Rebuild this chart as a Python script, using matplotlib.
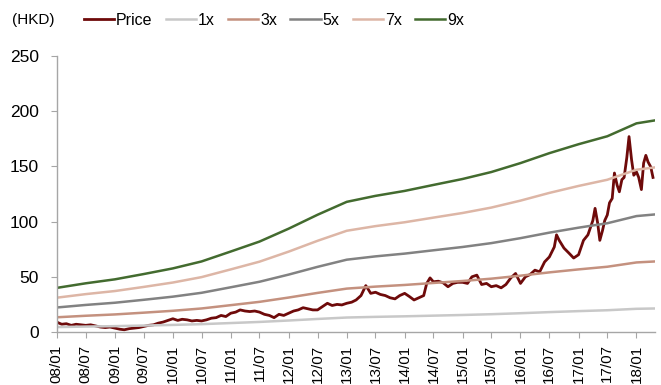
import numpy as np
import pandas as pd
import matplotlib
matplotlib.use("Agg")
import matplotlib.pyplot as plt
import matplotlib.dates as mdates

plt.rcParams['font.family'] = ['Liberation Sans', 'DejaVu Sans']

# share price (HKD)
price_dates = [
    "2008-01-01", "2008-01-15", "2008-02-01", "2008-03-01", "2008-04-01", "2008-05-01",
    "2008-06-01", "2008-07-01", "2008-08-01", "2008-09-01", "2008-10-01", "2008-11-01",
    "2008-12-01", "2009-01-01", "2009-02-01", "2009-03-01", "2009-04-01", "2009-05-01",
    "2009-06-01", "2009-07-01", "2009-08-01", "2009-09-01", "2009-10-01", "2009-11-01",
    "2009-12-01", "2010-01-01", "2010-02-01", "2010-03-01", "2010-04-01", "2010-05-01",
    "2010-06-01", "2010-07-01", "2010-08-01", "2010-09-01", "2010-10-01", "2010-11-01",
    "2010-12-01", "2011-01-01", "2011-02-01", "2011-03-01", "2011-04-01", "2011-05-01",
    "2011-06-01", "2011-07-01", "2011-08-01", "2011-09-01", "2011-10-01", "2011-11-01",
    "2011-12-01", "2012-01-01", "2012-02-01", "2012-03-01", "2012-04-01", "2012-05-01",
    "2012-06-01", "2012-07-01", "2012-08-01", "2012-09-01", "2012-10-01", "2012-11-01",
    "2012-12-01", "2013-01-01", "2013-02-01", "2013-03-01", "2013-04-01", "2013-05-01",
    "2013-05-15", "2013-06-01", "2013-07-01", "2013-08-01", "2013-09-01", "2013-10-01",
    "2013-11-01", "2013-12-01", "2014-01-01", "2014-02-01", "2014-03-01", "2014-04-01",
    "2014-05-01", "2014-05-20", "2014-06-10", "2014-07-01", "2014-08-01", "2014-09-01",
    "2014-10-01", "2014-11-01", "2014-12-01", "2015-01-01", "2015-02-01", "2015-03-01",
    "2015-04-01", "2015-05-01", "2015-06-01", "2015-07-01", "2015-08-01", "2015-09-01",
    "2015-10-01", "2015-11-01", "2015-12-01", "2016-01-01", "2016-02-01", "2016-03-01",
    "2016-04-01", "2016-05-01", "2016-06-01", "2016-07-01", "2016-08-01", "2016-08-15",
    "2016-09-01", "2016-10-01", "2016-11-01", "2016-12-01", "2017-01-01", "2017-02-01",
    "2017-03-01", "2017-04-01", "2017-04-15", "2017-05-01", "2017-05-15", "2017-06-01",
    "2017-06-15", "2017-07-01", "2017-07-15", "2017-08-01", "2017-08-15", "2017-09-01",
    "2017-09-15", "2017-10-01", "2017-10-15", "2017-11-01", "2017-11-15", "2017-12-01",
    "2017-12-15", "2018-01-01", "2018-01-15", "2018-02-01", "2018-02-15", "2018-03-01",
    "2018-03-15", "2018-04-01", "2018-04-15",
]
price = [
    9, 8, 7, 7.5, 6, 7,
    6.5, 6, 6.5, 5.5, 4.5, 4,
    4.5, 3.5, 2.5, 2, 3, 3.5,
    4, 5, 6, 6.5, 8, 9,
    10.5, 12, 10.5, 11.5, 11, 10,
    10.5, 10, 11, 12.5, 13, 15,
    14, 17, 18, 20, 19, 18.5,
    19, 18, 16, 15, 13, 16,
    15, 17, 19, 20, 22, 21,
    20, 20, 23, 26, 24, 25,
    24.5, 26, 27, 29, 33, 42,
    39, 35, 36, 34, 33, 31,
    30, 33, 35, 32, 29, 31,
    33, 44, 49, 45.5, 46, 44.5,
    41, 44, 45, 45, 44, 50,
    51.5, 43, 44, 41, 42, 40,
    43, 49, 53, 44, 50, 52,
    56, 54.5, 63.5, 68, 77, 88,
    83, 76, 71.5, 67, 70, 83,
    88, 101, 112, 99, 83, 92,
    101, 106, 117, 121, 144, 133,
    127, 138, 140, 158, 177, 156,
    142, 145, 140, 129, 153, 160,
    154, 149.5, 140,
]

# per-share base for the multiple bands
base_dates = [
    "2008-01-01", "2008-07-01", "2009-01-01", "2009-07-01", "2010-01-01", "2010-07-01",
    "2011-01-01", "2011-07-01", "2012-01-01", "2012-07-01", "2013-01-01", "2013-07-01",
    "2014-01-01", "2014-07-01", "2015-01-01", "2015-07-01", "2016-01-01", "2016-07-01",
    "2017-01-01", "2017-07-01", "2018-01-01", "2018-04-28",
]
base = [
    4.44, 4.9, 5.3, 5.83, 6.4, 7.1,
    8.1, 9.1, 10.4, 11.8, 13.1, 13.7,
    14.2, 14.8, 15.4, 16.1, 17.0, 18.0,
    18.9, 19.7, 21.0, 21.3,
]

multiples = [1, 3, 5, 7, 9]
band_colors = ["#C8C8C8", "#C4917F", "#828282", "#DDB6A6", "#436B2F"]
price_color = "#6E0A0A"

pdates = pd.to_datetime(price_dates)
bdates = pd.to_datetime(base_dates)
base = np.array(base)

fig = plt.figure(figsize=(6.61, 3.85), dpi=100)
ax = fig.add_axes([0.086, 0.1377, 0.905, 0.7168])

ax.plot(pdates, price, color=price_color, lw=2.0, label="Price")
for m, c in zip(multiples, band_colors):
    ax.plot(bdates, base * m, color=c, lw=1.8, label=f"{m}x")

ax.set_ylim(0, 250)
ax.set_yticks([0, 50, 100, 150, 200, 250])
ax.set_xlim(pd.Timestamp("2008-01-01"), pd.Timestamp("2018-04-28"))
ax.xaxis.set_major_locator(mdates.MonthLocator(bymonth=[1, 7]))
ax.xaxis.set_major_formatter(mdates.DateFormatter("%y/%m"))
plt.setp(ax.get_xticklabels(), rotation=90)

for s in ["top", "right"]:
    ax.spines[s].set_visible(False)
for s in ["left", "bottom"]:
    ax.spines[s].set_color("#A6A6A6")
    ax.spines[s].set_linewidth(1)
ax.tick_params(axis="both", colors="#A6A6A6", labelcolor="black", length=4,
               direction="out")
ax.tick_params(axis="y", labelsize=12.5, pad=9)
ax.tick_params(axis="x", labelsize=11, pad=5)

fig.text(0.018, 0.948, "(HKD)", fontsize=11, va="center", ha="left")
fig.legend(loc="center left", bbox_to_anchor=(0.127, 0.948), ncol=6, frameon=False,
           fontsize=11.5, handlelength=1.9, handletextpad=0.12, columnspacing=0.82,
           borderpad=0, borderaxespad=0)

fig.savefig("out.png", dpi=100)
